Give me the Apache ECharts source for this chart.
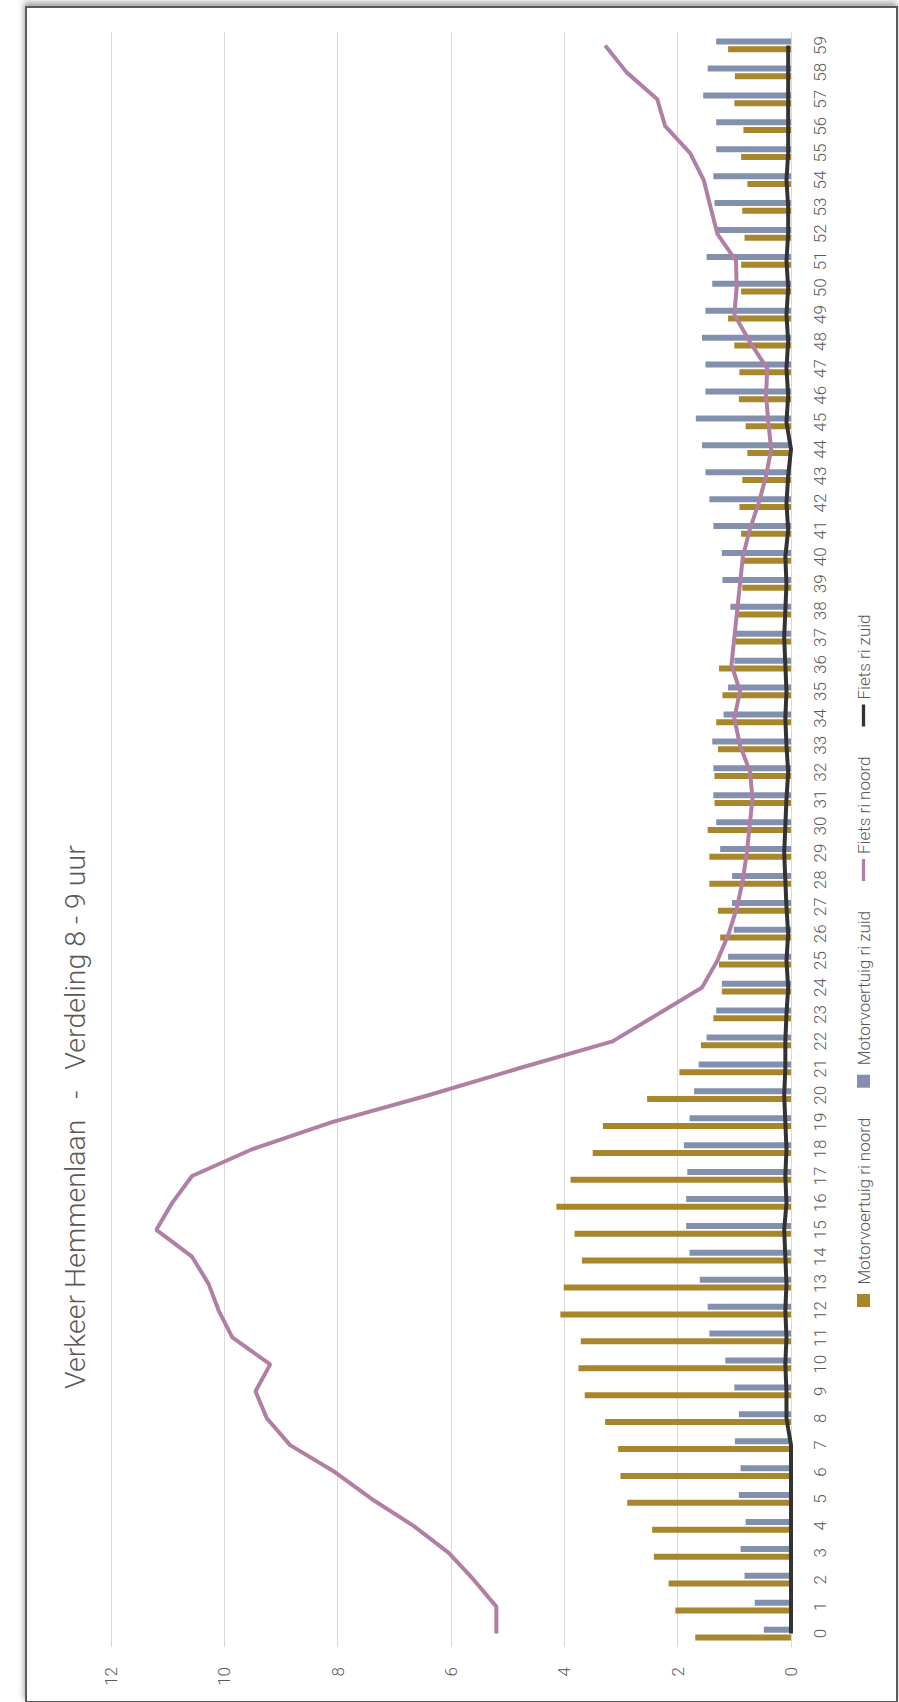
<!DOCTYPE html>
<html><head><meta charset="utf-8">
<script src="https://cdn.jsdelivr.net/npm/echarts@6/dist/echarts.min.js"></script>
<style>
html,body{margin:0;padding:0;background:#fff;width:899px;height:1702px;overflow:hidden;}
#frame{position:absolute;left:25px;top:6px;width:869px;height:1693px;border:2px solid #5a5a5a;box-shadow:-1px -4px 6px rgba(0,0,0,0.35);background:#fff;}
#chart{position:absolute;left:0;top:0;width:1702px;height:899px;transform-origin:0 0;transform:translate(0px,1702px) rotate(-90deg);}
</style></head>
<body>
<div id="frame"></div>
<div id="chart"></div>
<script>
const categories = ['0','1','2','3','4','5','6','7','8','9','10','11','12','13','14','15','16','17','18','19','20','21','22','23','24','25','26','27','28','29','30','31','32','33','34','35','36','37','38','39','40','41','42','43','44','45','46','47','48','49','50','51','52','53','54','55','56','57','58','59'];
const valueTicks = [0, 2, 4, 6, 8, 10, 12];
const motorNoord = [1.69,2.04,2.16,2.42,2.45,2.89,3.01,3.05,3.28,3.64,3.75,3.71,4.07,4.01,3.69,3.82,4.14,3.89,3.50,3.32,2.54,1.97,1.59,1.37,1.22,1.27,1.25,1.29,1.44,1.44,1.47,1.35,1.35,1.29,1.32,1.21,1.27,0.98,0.95,0.86,0.84,0.88,0.91,0.86,0.77,0.80,0.92,0.91,1.00,1.11,0.88,0.88,0.82,0.86,0.77,0.88,0.84,1.00,0.99,1.11];
const motorZuid = [0.48,0.64,0.82,0.89,0.80,0.92,0.89,0.99,0.92,1.00,1.16,1.44,1.47,1.61,1.79,1.85,1.85,1.83,1.89,1.79,1.71,1.63,1.49,1.32,1.22,1.11,1.01,1.04,1.04,1.25,1.32,1.37,1.37,1.39,1.19,1.11,1.00,1.00,1.07,1.21,1.22,1.37,1.44,1.51,1.57,1.68,1.51,1.51,1.57,1.51,1.39,1.49,1.32,1.35,1.37,1.32,1.32,1.55,1.47,1.32];
const fietsNoord = [5.2,5.2,5.6,6.04,6.66,7.4,8.05,8.84,9.25,9.45,9.19,9.86,10.1,10.28,10.57,11.2,10.92,10.57,9.5,8.1,6.4,4.8,3.15,2.36,1.57,1.3,1.1,0.95,0.85,0.78,0.73,0.68,0.72,0.9,1.0,0.9,1.05,1.0,0.95,0.9,0.85,0.73,0.57,0.44,0.35,0.4,0.44,0.42,0.73,1.0,0.96,0.97,1.3,1.42,1.54,1.78,2.22,2.36,2.9,3.28];
const fietsZuid = [0,0,0,0,0,0,0,0,0.08,0.08,0.1,0.08,0.1,0.08,0.1,0.12,0.08,0.1,0.08,0.1,0.12,0.1,0.1,0.08,0.05,0.08,0.05,0.08,0.1,0.12,0.1,0.08,0.05,0.08,0.1,0.08,0.1,0.12,0.1,0.08,0.1,0.05,0.08,0.05,0,0.08,0.05,0.08,0.05,0.08,0.05,0.08,0.05,0.05,0.08,0.05,0.05,0.05,0.05,0.05];
const seriesNames = ['Motorvoertuig ri noord','Motorvoertuig ri zuid','Fiets ri noord','Fiets ri zuid'];
const titleText = 'Verkeer Hemmenlaan   -   Verdeling 8 - 9 uur';

const FONT = 'Roboto, "Open Sans", sans-serif';
const chart = echarts.init(document.getElementById('chart'), null, {renderer:'svg', width:1702, height:899});
const sq = 'path://M0,0L10,0L10,10L0,10Z';
const ln = 'path://M0,0L20,0L20,3L0,3Z';
chart.setOption({
  animation:false,
  backgroundColor:'transparent',
  title:{text:titleText,left:308,top:56,textStyle:{fontFamily:FONT,fontWeight:300,fontSize:28.5,color:'#595959'}},
  legend:{
    bottom:22,left:390,itemWidth:22,itemHeight:13,itemGap:30,
    textStyle:{fontFamily:FONT,fontWeight:300,fontSize:17,color:'#595959'},
    data:[{name:seriesNames[0],icon:sq},{name:seriesNames[1],icon:sq},{name:seriesNames[2],icon:ln},{name:seriesNames[3],icon:ln}]
  },
  grid:{left:55,right:32,top:111,bottom:108},
  xAxis:{type:'category',data:categories,boundaryGap:true,
    axisTick:{show:false},axisLine:{show:true,lineStyle:{color:'#d9d9d9'}},
    axisLabel:{interval:0,margin:20,fontFamily:FONT,fontWeight:300,fontSize:17,color:'#595959'}},
  yAxis:{type:'value',min:valueTicks[0],max:valueTicks[valueTicks.length-1],interval:2,
    axisLine:{show:false},axisTick:{show:false},
    splitLine:{lineStyle:{color:'#d9d9d9',width:1}},
    axisLabel:{margin:20,fontFamily:FONT,fontWeight:300,fontSize:17,color:'#595959'}},
  series:[
    {name:seriesNames[0],type:'bar',data:motorNoord,barWidth:6,barGap:'28%',itemStyle:{color:'#A8862B'}},
    {name:seriesNames[1],type:'bar',data:motorZuid,barWidth:6,barGap:'28%',itemStyle:{color:'#8290AD'}},
    {name:seriesNames[2],type:'line',data:fietsNoord,showSymbol:false,symbol:'none',z:5,lineStyle:{width:4,color:'#B07FA3'},itemStyle:{color:'#B07FA3'}},
    {name:seriesNames[3],type:'line',data:fietsZuid,showSymbol:false,symbol:'none',z:6,lineStyle:{width:4,color:'#333333'},itemStyle:{color:'#333333'}}
  ]
});
</script>
</body></html>
